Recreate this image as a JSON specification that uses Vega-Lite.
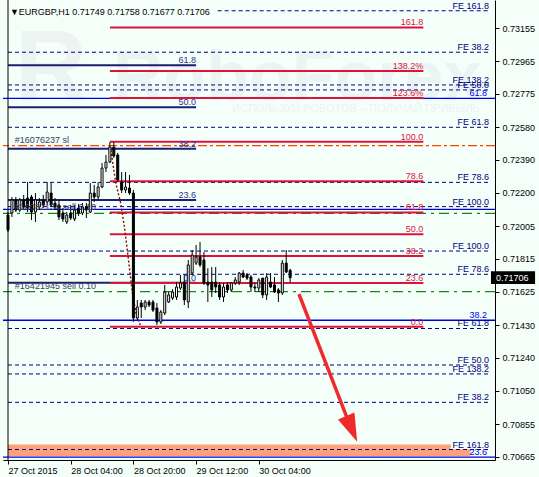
{
"$schema": "https://vega.github.io/schema/vega-lite/v6.json",
"width": 492, "height": 460, "autosize": "none",
"padding": {"left": 3, "top": 0, "right": 44, "bottom": 17},
"background": "#f5fffa",
"config": {"view": {"stroke": null}, "text": {"font": "Liberation Sans"}, "axis": {"labelFont": "Liberation Sans"}},
"resolve": {"axis": {"x": "independent", "y": "independent"}},
"datasets": {
"candles": [
{"h":0,"o":0.72070,"hi":0.72088,"lo":0.71972,"c":0.71983},
{"h":1,"o":0.72082,"hi":0.72175,"lo":0.72059,"c":0.72158},
{"h":2,"o":0.72158,"hi":0.72175,"lo":0.72088,"c":0.72099},
{"h":3,"o":0.72099,"hi":0.72169,"lo":0.72088,"c":0.72158},
{"h":4,"o":0.72158,"hi":0.72187,"lo":0.72099,"c":0.72117},
{"h":5,"o":0.72169,"hi":0.72262,"lo":0.72088,"c":0.72111},
{"h":6,"o":0.72175,"hi":0.72187,"lo":0.72041,"c":0.72088},
{"h":7,"o":0.72088,"hi":0.72198,"lo":0.72030,"c":0.72158},
{"h":8,"o":0.72117,"hi":0.72169,"lo":0.72099,"c":0.72146},
{"h":9,"o":0.72158,"hi":0.72187,"lo":0.72111,"c":0.72128},
{"h":10,"o":0.72146,"hi":0.72262,"lo":0.72128,"c":0.72204},
{"h":11,"o":0.72198,"hi":0.72256,"lo":0.72117,"c":0.72128},
{"h":12,"o":0.72140,"hi":0.72169,"lo":0.72099,"c":0.72117},
{"h":13,"o":0.72128,"hi":0.72158,"lo":0.72041,"c":0.72059},
{"h":14,"o":0.72082,"hi":0.72111,"lo":0.72030,"c":0.72047},
{"h":15,"o":0.72030,"hi":0.72088,"lo":0.72018,"c":0.72070},
{"h":16,"o":0.72082,"hi":0.72128,"lo":0.72041,"c":0.72053},
{"h":17,"o":0.72047,"hi":0.72128,"lo":0.72035,"c":0.72099},
{"h":18,"o":0.72111,"hi":0.72134,"lo":0.72065,"c":0.72082},
{"h":19,"o":0.72082,"hi":0.72140,"lo":0.72070,"c":0.72117},
{"h":20,"o":0.72117,"hi":0.72140,"lo":0.72053,"c":0.72099},
{"h":21,"o":0.72088,"hi":0.72256,"lo":0.72082,"c":0.72198},
{"h":22,"o":0.72198,"hi":0.72245,"lo":0.72146,"c":0.72175},
{"h":23,"o":0.72175,"hi":0.72262,"lo":0.72158,"c":0.72233},
{"h":24,"o":0.72233,"hi":0.72372,"lo":0.72227,"c":0.72343},
{"h":25,"o":0.72343,"hi":0.72419,"lo":0.72320,"c":0.72378},
{"h":26,"o":0.72378,"hi":0.72494,"lo":0.72372,"c":0.72465},
{"h":27,"o":0.72465,"hi":0.72494,"lo":0.72402,"c":0.72413},
{"h":28,"o":0.72419,"hi":0.72431,"lo":0.72262,"c":0.72274},
{"h":29,"o":0.72262,"hi":0.72320,"lo":0.72198,"c":0.72216},
{"h":30,"o":0.72216,"hi":0.72320,"lo":0.72198,"c":0.72233},
{"h":31,"o":0.72227,"hi":0.72303,"lo":0.72187,"c":0.72198},
{"h":32,"o":0.72198,"hi":0.72216,"lo":0.71449,"c":0.71472},
{"h":33,"o":0.71472,"hi":0.71577,"lo":0.71460,"c":0.71536},
{"h":34,"o":0.71559,"hi":0.71577,"lo":0.71472,"c":0.71536},
{"h":35,"o":0.71536,"hi":0.71577,"lo":0.71518,"c":0.71565},
{"h":36,"o":0.71565,"hi":0.71577,"lo":0.71536,"c":0.71547},
{"h":37,"o":0.71565,"hi":0.71577,"lo":0.71507,"c":0.71518},
{"h":38,"o":0.71530,"hi":0.71559,"lo":0.71431,"c":0.71449},
{"h":39,"o":0.71449,"hi":0.71518,"lo":0.71437,"c":0.71507},
{"h":40,"o":0.71501,"hi":0.71664,"lo":0.71489,"c":0.71623},
{"h":41,"o":0.71565,"hi":0.71623,"lo":0.71559,"c":0.71606},
{"h":42,"o":0.71588,"hi":0.71640,"lo":0.71577,"c":0.71623},
{"h":43,"o":0.71594,"hi":0.71681,"lo":0.71577,"c":0.71652},
{"h":44,"o":0.71646,"hi":0.71722,"lo":0.71635,"c":0.71675},
{"h":45,"o":0.71681,"hi":0.71722,"lo":0.71547,"c":0.71577},
{"h":46,"o":0.71565,"hi":0.71809,"lo":0.71530,"c":0.71780},
{"h":47,"o":0.71733,"hi":0.71867,"lo":0.71722,"c":0.71838},
{"h":48,"o":0.71791,"hi":0.71896,"lo":0.71780,"c":0.71826},
{"h":49,"o":0.71826,"hi":0.71913,"lo":0.71768,"c":0.71780},
{"h":50,"o":0.71809,"hi":0.71855,"lo":0.71664,"c":0.71675},
{"h":51,"o":0.71681,"hi":0.71762,"lo":0.71565,"c":0.71664},
{"h":52,"o":0.71681,"hi":0.71768,"lo":0.71594,"c":0.71635},
{"h":53,"o":0.71681,"hi":0.71768,"lo":0.71617,"c":0.71652},
{"h":54,"o":0.71664,"hi":0.71681,"lo":0.71577,"c":0.71594},
{"h":55,"o":0.71594,"hi":0.71675,"lo":0.71565,"c":0.71652},
{"h":56,"o":0.71664,"hi":0.71681,"lo":0.71617,"c":0.71635},
{"h":57,"o":0.71635,"hi":0.71681,"lo":0.71623,"c":0.71675},
{"h":58,"o":0.71675,"hi":0.71710,"lo":0.71664,"c":0.71693},
{"h":59,"o":0.71681,"hi":0.71739,"lo":0.71664,"c":0.71733},
{"h":60,"o":0.71733,"hi":0.71751,"lo":0.71704,"c":0.71710},
{"h":61,"o":0.71722,"hi":0.71733,"lo":0.71693,"c":0.71704},
{"h":62,"o":0.71710,"hi":0.71722,"lo":0.71623,"c":0.71652},
{"h":63,"o":0.71652,"hi":0.71675,"lo":0.71623,"c":0.71646},
{"h":64,"o":0.71646,"hi":0.71704,"lo":0.71623,"c":0.71693},
{"h":65,"o":0.71704,"hi":0.71704,"lo":0.71588,"c":0.71606},
{"h":66,"o":0.71606,"hi":0.71733,"lo":0.71577,"c":0.71710},
{"h":67,"o":0.71681,"hi":0.71733,"lo":0.71646,"c":0.71652},
{"h":68,"o":0.71664,"hi":0.71710,"lo":0.71617,"c":0.71623},
{"h":69,"o":0.71635,"hi":0.71646,"lo":0.71565,"c":0.71617},
{"h":70,"o":0.71617,"hi":0.71809,"lo":0.71606,"c":0.71791},
{"h":71,"o":0.71791,"hi":0.71867,"lo":0.71733,"c":0.71739},
{"h":72,"o":0.71749,"hi":0.71758,"lo":0.71677,"c":0.71706}
],
"fe": [
{"p":0.73257,"t":"FE 161.8","x1":53.5,"x2":123},
{"p":0.73016,"t":"FE 38.2","x1":0,"x2":123},
{"p":0.72826,"t":"FE 138.2","x1":0,"x2":123},
{"p":0.72797,"t":"FE 50.0","x1":0,"x2":123},
{"p":0.72580,"t":"FE 61.8","x1":0,"x2":123},
{"p":0.72260,"t":"FE 78.6","x1":0,"x2":123},
{"p":0.72119,"t":"FE 100.0","x1":0,"x2":123},
{"p":0.71861,"t":"FE 100.0","x1":0,"x2":123},
{"p":0.71726,"t":"FE 78.6","x1":0,"x2":123},
{"p":0.71411,"t":"FE 61.8","x1":0,"x2":123},
{"p":0.71199,"t":"FE 50.0","x1":0,"x2":123},
{"p":0.71147,"t":"FE 138.2","x1":0,"x2":123},
{"p":0.70982,"t":"FE 38.2","x1":0,"x2":123},
{"p":0.70708,"t":"FE 161.8","x1":0,"x2":123}
],
"redfib": [
{"p":0.73160,"t":"161.8"},{"p":0.72907,"t":"138.2%"},{"p":0.72750,"t":"123.6%"},{"p":0.72496,"t":"100.0"},
{"p":0.72266,"t":"78.6"},{"p":0.72085,"t":"61.8"},{"p":0.71959,"t":"50.0"},{"p":0.71832,"t":"38.2"},
{"p":0.71675,"t":"23.6"},{"p":0.71421,"t":"0.0"}
],
"navyfib": [
{"p":0.72940,"t":"61.8"},{"p":0.72697,"t":"50.0"},{"p":0.72455,"t":"38.2"},{"p":0.72158,"t":"23.6"},{"p":0.71677,"t":"0.0"}
],
"bluefib": [
{"p":0.72748,"t":"61.8"},{"p":0.72103,"t":""},{"p":0.71459,"t":"38.2"},{"p":0.70664,"t":"23.6"}
],
"orders": [
{"p":0.72473,"t":"#16076237 sl","kind":"sl"},
{"p":0.72080,"t":"#16082134 sell 0.10","kind":"sell"},
{"p":0.71625,"t":"#16421945 sell 0.10","kind":"sell"}
],
"band": [
{"x1":0,"x2":113,"p1":0.70737,"p2":0.70710},
{"x1":0,"x2":118,"p1":0.70710,"p2":0.70670}
],
"curve": [
{"h":26.25,"p":0.72448},{"h":27.5,"p":0.72256},{"h":28.75,"p":0.72140},{"h":29.75,"p":0.71995},
{"h":30.75,"p":0.71809},{"h":31.75,"p":0.71617},{"h":32.75,"p":0.71489},{"h":33.75,"p":0.71431}
]
},
"layer": [
{"data": {"values": [{"h":1.75,"p":0.727385,"t":"R","s":100},{"h":26.75,"p":0.727385,"t":"RoboForex","s":70}]},
 "mark": {"type":"text","align":"left","baseline":"alphabetic","fontWeight":"bold","font":"Liberation Sans","color":"#ebf4f2"},
 "encoding": {"x":{"field":"h","type":"quantitative","axis":null},"y":{"field":"p","type":"quantitative","axis":null},"text":{"field":"t"},"size":{"field":"s","type":"quantitative","scale":null}}},
{"data": {"values": [{"h":57.25,"p":0.726688,"t":"ИСПОЛЬЗУЙ РОБОТОВ – ПОЛУЧАЙ ПРИБЫЛЬ"}]},
 "mark": {"type":"text","align":"left","baseline":"alphabetic","fontSize":11,"color":"#ebf4f2"},
 "encoding": {"x":{"field":"h","type":"quantitative","axis":null},"y":{"field":"p","type":"quantitative","axis":null},"text":{"field":"t"}}},
{"data": {"name":"band"},
 "mark": {"type":"rect","color":"#ffa07a"},
 "encoding": {"x":{"field":"x1","type":"quantitative","axis":null},"x2":{"field":"x2"},"y":{"field":"p1","type":"quantitative","axis":null},"y2":{"field":"p2"}}},
{"data": {"name":"fe"},
 "mark": {"type":"rule","color":"#000080","strokeWidth":1,"strokeDash":[4,3]},
 "encoding": {"x":{"field":"x1","type":"quantitative","axis":null},"x2":{"field":"x2"},"y":{"field":"p","type":"quantitative","axis":null}}},
{"data": {"name":"bluefib"},
 "mark": {"type":"rule","color":"#0000e6","strokeWidth":1.3},
 "encoding": {"y":{"field":"p","type":"quantitative","axis":null}}},
{"data": {"name":"orders"},
 "mark": {"type":"rule","strokeWidth":1.2},
 "encoding": {"y":{"field":"p","type":"quantitative","axis":null},
   "color":{"field":"kind","type":"nominal","scale":{"domain":["sl","sell"],"range":["#ff4500","#118811"]},"legend":null},
   "strokeDash":{"field":"kind","type":"nominal","scale":{"domain":["sl","sell"],"range":[[9,3,3,3],[10,5,3,5]]},"legend":null}}},
{"data": {"name":"navyfib"},
 "mark": {"type":"rule","color":"#1c1f70","strokeWidth":2},
 "encoding": {"x":{"datum":0,"type":"quantitative","axis":null},"x2":{"datum":48},"y":{"field":"p","type":"quantitative","axis":null}}},
{"data": {"name":"redfib"},
 "mark": {"type":"rule","color":"#dc143c","strokeWidth":2},
 "encoding": {"x":{"datum":26,"type":"quantitative","axis":null},"x2":{"datum":106},"y":{"field":"p","type":"quantitative","axis":null}}},
{"data": {"name":"curve"},
 "mark": {"type":"line","color":"#8b0000","strokeWidth":1.4,"strokeDash":[2,2]},
 "encoding": {"x":{"field":"h","type":"quantitative","axis":null},"y":{"field":"p","type":"quantitative","axis":null}}},
{"data": {"name":"candles"},
 "mark": {"type":"rule","color":"black","strokeWidth":1},
 "encoding": {"x":{"field":"h","type":"quantitative","axis":null},"y":{"field":"lo","type":"quantitative","axis":null},"y2":{"field":"hi"}}},
{"data": {"name":"candles"},
 "mark": {"type":"bar","size":2,"stroke":"black","strokeWidth":1},
 "encoding": {
   "x":{"field":"h","type":"quantitative","scale":{"domain":[0,123],"nice":false,"zero":false},
        "axis":{"orient":"bottom","title":null,"values":[0,16,32,48,64],"grid":false,"domainColor":"black","tickColor":"black","tickSize":4,"labelColor":"black","labelFontSize":9,"labelAlign":"left","labelBaseline":"top","labelPadding":2,"labelOverlap":false,"labelBound":false,"labelFlush":false,
        "labelExpr":"datum.value == 0 ? '27 Oct 2015' : datum.value == 16 ? '28 Oct 04:00' : datum.value == 32 ? '28 Oct 20:00' : datum.value == 48 ? '29 Oct 12:00' : '30 Oct 04:00'"}},
   "y":{"field":"o","type":"quantitative","scale":{"domain":[0.70647,0.733195],"nice":false,"zero":false},
        "axis":{"orient":"right","title":null,"values":[0.73155,0.72965,0.72775,0.72580,0.72390,0.72200,0.72005,0.71815,0.71625,0.71430,0.71240,0.71050,0.70855,0.70665],"format":".5f","grid":false,"domainColor":"black","tickColor":"black","tickSize":4,"labelColor":"black","labelFontSize":9,"labelPadding":3,"labelOverlap":false,"labelBound":false,"labelFlush":false}},
   "y2":{"field":"c"},
   "fill":{"condition":{"test":"datum.c >= datum.o","value":"white"},"value":"black"}}},
{"data": {"values":[{"v":0}]},
 "mark": {"type":"rule","color":"black","strokeWidth":1},
 "encoding": {"x":{"datum":0,"type":"quantitative","axis":null}}},
{"data": {"values":[{"h1":74.25,"p1":0.71611,"h2":86.75,"p2":0.70879}]},
 "mark": {"type":"rule","color":"#ee2a2a","strokeWidth":3.5},
 "encoding": {"x":{"field":"h1","type":"quantitative","axis":null},"y":{"field":"p1","type":"quantitative","axis":null},"x2":{"field":"h2"},"y2":{"field":"p2"}}},
{"data": {"values":[{"h":87.7,"p":0.70828}]},
 "mark": {"type":"point","shape":"M0,1L-0.64,-1L0.64,-1Z","size":784,"angle":337,"filled":true,"color":"#ee2a2a","opacity":1},
 "encoding": {"x":{"field":"h","type":"quantitative","axis":null},"y":{"field":"p","type":"quantitative","axis":null}}},
{"data": {"name":"fe"},
 "mark": {"type":"text","align":"right","baseline":"alphabetic","dy":-2,"fontSize":9,"color":"#000080"},
 "encoding": {"x":{"datum":122.75,"type":"quantitative","axis":null},"y":{"field":"p","type":"quantitative","axis":null},"text":{"field":"t"}}},
{"data": {"name":"redfib"},
 "mark": {"type":"text","align":"right","baseline":"alphabetic","dy":-2,"fontSize":9,"color":"#dc143c"},
 "encoding": {"x":{"datum":106,"type":"quantitative","axis":null},"y":{"field":"p","type":"quantitative","axis":null},"text":{"field":"t"}}},
{"data": {"name":"navyfib"},
 "mark": {"type":"text","align":"right","baseline":"alphabetic","dy":-2,"fontSize":9,"color":"#2a3590"},
 "encoding": {"x":{"datum":48,"type":"quantitative","axis":null},"y":{"field":"p","type":"quantitative","axis":null},"text":{"field":"t"}}},
{"data": {"name":"bluefib"},
 "mark": {"type":"text","align":"right","baseline":"alphabetic","dy":-2,"fontSize":9,"color":"#0000e6"},
 "encoding": {"x":{"datum":122.25,"type":"quantitative","axis":null},"y":{"field":"p","type":"quantitative","axis":null},"text":{"field":"t"}}},
{"data": {"name":"orders"},
 "mark": {"type":"text","align":"left","baseline":"alphabetic","dy":-3,"fontSize":9,"color":"#3a4160"},
 "encoding": {"x":{"datum":1.75,"type":"quantitative","axis":null},"y":{"field":"p","type":"quantitative","axis":null},"text":{"field":"t"}}},
{"data": {"values":[{"h":0.5,"p":0.732323,"t":"▼EURGBP,H1  0.71749 0.71758 0.71677 0.71706"}]},
 "mark": {"type":"text","align":"left","baseline":"alphabetic","fontSize":9,"color":"black"},
 "encoding": {"x":{"field":"h","type":"quantitative","axis":null},"y":{"field":"p","type":"quantitative","axis":null},"text":{"field":"t"}}},
{"data": {"values":[{"h1":123.25,"h2":134.5,"p1":0.71743,"p2":0.71669}]},
 "mark": {"type":"rect","color":"black","clip":false},
 "encoding": {"x":{"field":"h1","type":"quantitative","axis":null},"x2":{"field":"h2"},"y":{"field":"p1","type":"quantitative","axis":null},"y2":{"field":"p2"}}},
{"data": {"values":[{"h":124.5,"p":0.71706,"t":"0.71706"}]},
 "mark": {"type":"text","align":"left","baseline":"middle","fontSize":9,"color":"white","clip":false},
 "encoding": {"x":{"field":"h","type":"quantitative","axis":null},"y":{"field":"p","type":"quantitative","axis":null},"text":{"field":"t"}}}
]
}
